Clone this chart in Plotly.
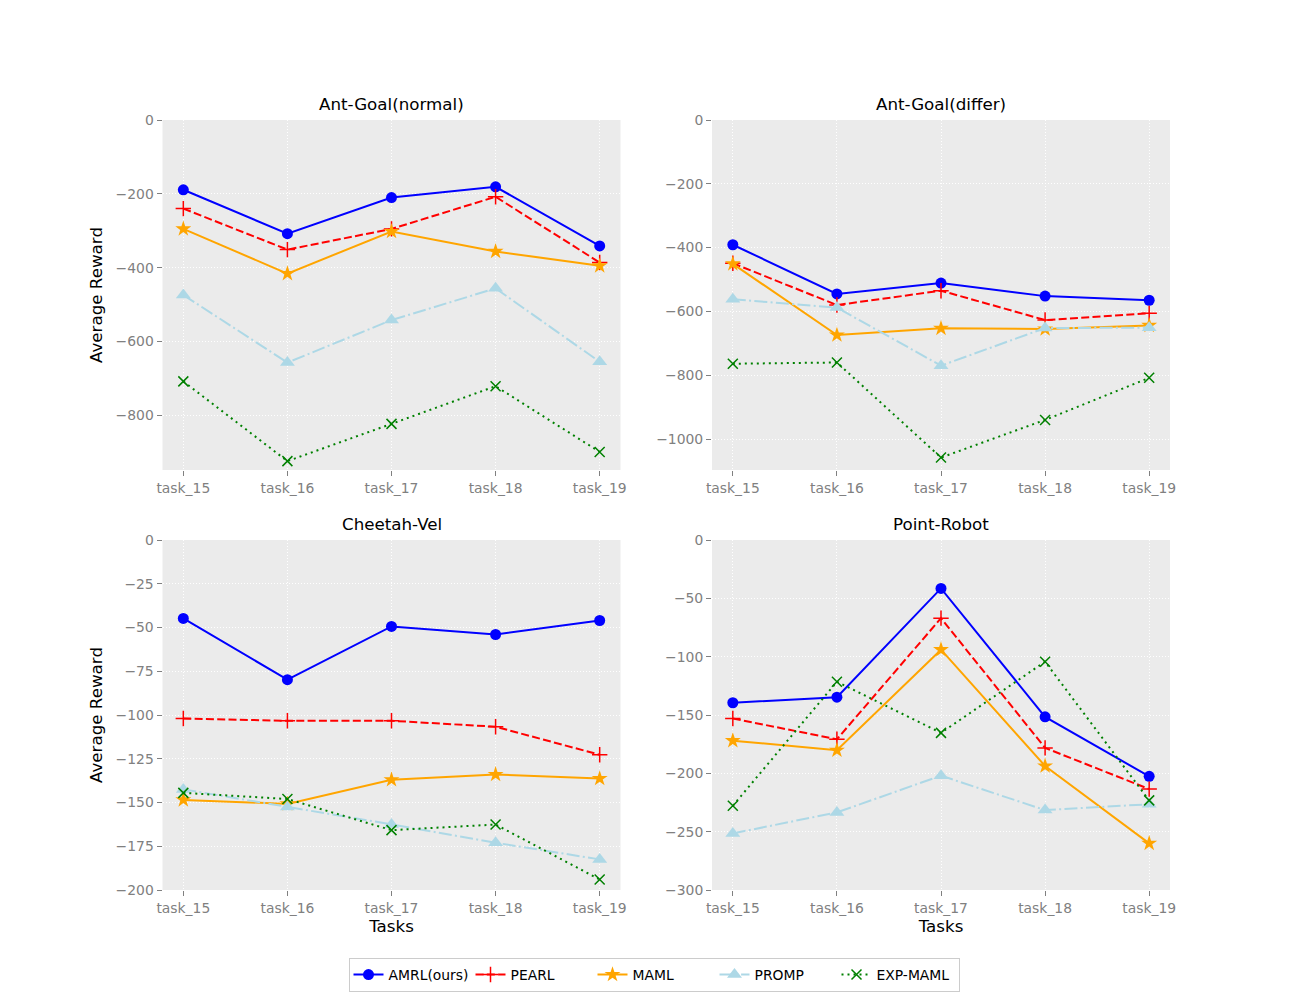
import plotly.graph_objects as go

tasks = ["task_15", "task_16", "task_17", "task_18", "task_19"]
methods = ["AMRL(ours)", "PEARL", "MAML", "PROMP", "EXP-MAML"]
panel_titles = ["Ant-Goal(normal)", "Ant-Goal(differ)", "Cheetah-Vel", "Point-Robot"]

ant_normal_amrl = [-189, -308, -210, -181, -341]
ant_normal_pearl = [-240, -351, -295, -208, -386]
ant_normal_maml = [-295, -416, -302, -356, -395]
ant_normal_promp = [-474, -657, -542, -456, -655]
ant_normal_exp = [-708, -924, -823, -721, -899]

ant_differ_amrl = [-391, -545, -511, -552, -565]
ant_differ_pearl = [-449, -580, -535, -627, -606]
ant_differ_maml = [-451, -674, -653, -655, -644]
ant_differ_promp = [-562, -588, -770, -652, -651]
ant_differ_exp = [-764, -760, -1058, -940, -808]

cheetah_amrl = [-44.8, -79.8, -49.4, -54.0, -46.0]
cheetah_pearl = [-102.0, -103.3, -103.3, -106.7, -122.7]
cheetah_maml = [-148.5, -150.8, -137.0, -134.0, -136.3]
cheetah_promp = [-142.5, -152.5, -162.5, -173.0, -182.5]
cheetah_exp = [-144.5, -148.0, -165.8, -162.6, -194.0]

point_amrl = [-139.5, -134.7, -41.5, -151.6, -202.6]
point_pearl = [-153.0, -170.8, -67.0, -178.2, -213.5]
point_maml = [-172.0, -180.2, -94.0, -193.7, -260.0]
point_promp = [-251.5, -233.5, -202.0, -231.5, -226.5]
point_exp = [-227.8, -121.5, -165.3, -104.3, -223.2]

panel_data = [
    [ant_normal_amrl, ant_normal_pearl, ant_normal_maml, ant_normal_promp, ant_normal_exp],
    [ant_differ_amrl, ant_differ_pearl, ant_differ_maml, ant_differ_promp, ant_differ_exp],
    [cheetah_amrl, cheetah_pearl, cheetah_maml, cheetah_promp, cheetah_exp],
    [point_amrl, point_pearl, point_maml, point_promp, point_exp],
]

y_ranges = [[-948, 0], [-1097, 0], [-200, 0], [-300, 0]]
y_dticks = [200, 200, 25, 50]

styles = [
    dict(color="blue", dash="solid", symbol="circle", size=11, mline=0),
    dict(color="red", dash="8px,3.3px", symbol="cross-thin", size=11, mline=1.5),
    dict(color="orange", dash="solid", symbol="star", size=12, mline=0),
    dict(color="lightblue", dash="13px,3.3px,2px,3.3px", symbol="triangle-up", size=13, mline=0),
    dict(color="green", dash="2px,4px", symbol="x-thin", size=10, mline=1.5),
]

# page has an 8px body margin; size the figure so the page fits the 1300x1000 window
OFF = 8
FW, FH = 1300 - 2 * OFF, 1000 - 2 * OFF


def px_x(px):
    return (px - OFF) / FW


def px_y(py):
    return 1 - (py - OFF) / FH


x_px = [[162.5, 620.5], [712, 1170], [162.5, 620.5], [712, 1170]]
y_px = [[470, 120], [470, 120], [890, 540], [890, 540]]
x_domains = [[px_x(a), px_x(b)] for a, b in x_px]
y_domains = [[px_y(a), px_y(b)] for a, b in y_px]

fig = go.Figure()
FONT = "DejaVu Sans"
TICK_COLOR = "#808080"

for p in range(4):
    ax = "" if p == 0 else str(p + 1)
    for m, name in enumerate(methods):
        st = styles[m]
        marker = dict(symbol=st["symbol"], size=st["size"], color=st["color"])
        if st["mline"]:
            marker["line"] = dict(color=st["color"], width=st["mline"])
        else:
            marker["line"] = dict(width=0)
        fig.add_trace(go.Scatter(
            x=tasks, y=panel_data[p][m], mode="lines+markers", name=name,
            line=dict(color=st["color"], width=2, dash=st["dash"]),
            marker=marker, showlegend=(p == 0), legendgroup=name,
            xaxis="x" + ax, yaxis="y" + ax,
        ))
    axis_common = dict(
        showgrid=True, gridcolor="white", griddash="1px,2px", gridwidth=1,
        zeroline=False, showline=False, ticks="outside", ticklen=5, tickwidth=1,
        tickcolor=TICK_COLOR, tickfont=dict(family=FONT, size=13.9, color=TICK_COLOR),
        automargin=False,
    )
    fig.layout["xaxis" + ax] = dict(
        axis_common, domain=x_domains[p], anchor="y" + ax, type="category",
        range=[-0.2, 4.2],
        title=dict(text="Tasks" if p >= 2 else "", font=dict(family=FONT, size=16.7, color="black"), standoff=4),
    )
    fig.layout["yaxis" + ax] = dict(
        axis_common, domain=y_domains[p], anchor="x" + ax,
        range=y_ranges[p], dtick=y_dticks[p], tick0=0,
        title=dict(text="Average Reward" if p in (0, 2) else "", font=dict(family=FONT, size=16.7, color="black"), standoff=8),
    )
    fig.add_annotation(
        text=panel_titles[p], xref="paper", yref="paper",
        x=(x_domains[p][0] + x_domains[p][1]) / 2, y=y_domains[p][1],
        xanchor="center", yanchor="bottom", yshift=4, showarrow=False,
        font=dict(family=FONT, size=16.7, color="black"),
    )
    fig.add_shape(type="rect", xref="paper", yref="paper", layer="below",
                  x0=x_domains[p][0], x1=x_domains[p][1], y0=y_domains[p][0], y1=y_domains[p][1],
                  fillcolor="#EBEBEB", line=dict(width=0))

fig.update_layout(
    width=FW, height=FH, margin=dict(l=0, r=0, t=0, b=0),
    paper_bgcolor="white", plot_bgcolor="rgba(0,0,0,0)",
    font=dict(family=FONT),
    legend=dict(orientation="h", x=px_x(654), xanchor="center", y=0, yanchor="bottom",
                bgcolor="white", bordercolor="#CCCCCC", borderwidth=1,
                entrywidth=77, entrywidthmode="pixels",
                font=dict(family=FONT, size=13.9, color="black")),
)

fig.write_html("out.html")
